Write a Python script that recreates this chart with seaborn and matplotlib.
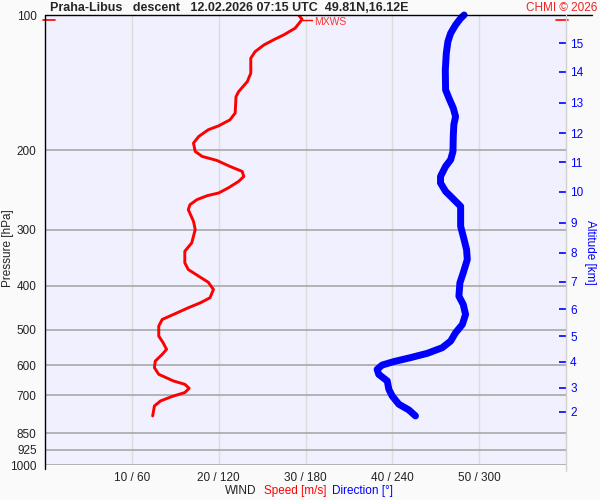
import pandas as pd
import matplotlib
matplotlib.use("Agg")
import matplotlib.pyplot as plt
from matplotlib.lines import Line2D
from matplotlib.ticker import NullLocator
import seaborn as sns

# pressure levels (hPa) for the left axis
pressure_levels = [100, 200, 300, 400, 500, 600, 700, 850, 925, 1000]

# x axis: speed m/s / direction deg
speed_ticks = [10, 20, 30, 40, 50]
speed_tick_labels = ["10 / 60", "20 / 120", "30 / 180", "40 / 240", "50 / 300"]

# altitude marks on right axis (km -> pressure where they sit)
alt_km = [15, 14, 13, 12, 11, 10, 9, 8, 7, 6, 5, 4, 3, 2]
alt_p = [115.5, 133.6, 156.5, 183.0, 212.6, 247.3, 289.8, 337.7, 391.7,
         451.2, 517.1, 589.3, 673.0, 760.8]

# wind speed profile
speed_p = [100.0, 102.2, 103.5, 107.0, 110.7, 113.6, 116.6, 120.6, 124.7, 134.7,
           140.6, 148.0, 151.8, 165.2, 171.0, 176.3, 179.9, 186.2, 192.6, 201.0,
           206.2, 210.5, 217.0, 222.6, 228.4, 234.3, 242.3, 248.6, 252.0, 257.2,
           263.9, 270.7, 287.4, 299.8, 320.9, 335.0, 355.4, 367.8, 380.6, 392.5,
           407.3, 425.0, 436.0, 447.3, 462.8, 474.8, 491.3, 517.1, 534.8, 553.4,
           567.7, 587.5, 607.7, 628.8, 650.6, 661.7, 675.3, 690.3, 704.6, 720.6,
           739.3, 778.0]
speed = [29.2, 29.6, 29.4, 28.8, 27.5, 26.3, 25.2, 24.2, 23.7, 23.7,
         23.3, 22.3, 22.0, 21.9, 21.3, 20.0, 18.8, 17.7, 17.1, 17.3,
         18.1, 19.8, 21.3, 22.7, 22.9, 22.3, 21.1, 20.0, 18.7, 17.5,
         16.7, 16.5, 17.1, 17.3, 16.9, 16.1, 16.1, 16.5, 17.7, 18.8,
         19.4, 19.0, 17.9, 16.5, 14.8, 13.5, 13.1, 13.1, 13.6, 14.0,
         13.5, 12.7, 12.6, 13.1, 14.8, 16.1, 16.6, 16.1, 14.6, 13.3,
         12.6, 12.4]

# wind direction profile
dir_p = [100.0, 101.7, 105.2, 109.8, 114.6, 121.6, 132.4, 146.7, 153.0, 161.0,
         168.1, 175.4, 186.2, 201.0, 209.7, 217.0, 228.4, 236.2, 246.6, 255.0,
         266.2, 294.8, 310.3, 332.1, 349.5, 374.0, 393.6, 421.5, 439.8, 462.8,
         487.1, 508.2, 530.4, 548.7, 564.8, 577.3, 589.2, 599.6, 613.0, 628.8,
         650.6, 678.9, 702.4, 732.8, 754.5, 778.0]
direction = [289.6, 287.2, 283.7, 280.3, 278.4, 277.3, 276.6, 276.8, 279.1, 282.1,
             283.7, 282.5, 282.1, 281.9, 280.3, 276.8, 273.3, 273.3, 276.8, 281.4,
             287.2, 287.2, 289.0, 291.3, 291.8, 289.0, 286.7, 286.0, 289.0, 290.6,
             288.4, 283.7, 280.3, 274.5, 264.1, 252.6, 241.0, 233.0, 229.5, 230.6,
             236.5, 237.6, 239.9, 244.5, 251.4, 256.0]

# max wind level
mxws_p = 102.6
mxws_speed = 29.6

title = "Praha-Libus   descent   12.02.2026 07:15 UTC  49.81N,16.12E"

sns.set_style("white")
plt.rcParams["font.family"] = ["Liberation Sans", "DejaVu Sans"]

W, H = 600, 500
fig = plt.figure(figsize=(6, 5), dpi=100, facecolor="#fafafa")
ax = fig.add_axes([45 / W, 1 - 465 / H, 521 / W, 450 / H])
ax.set_facecolor("#f0f0ff")

for p in pressure_levels:
    ax.axhline(p, color="#a8a8a8", lw=1.2, zorder=1)
for s in speed_ticks:
    ax.axvline(s, color="#dcdcdc", lw=1, zorder=0.5)

df_speed = pd.DataFrame({"x": speed, "p": speed_p})
df_dir = pd.DataFrame({"x": [d / 6.0 for d in direction], "p": dir_p})

sns.lineplot(data=df_speed, x="x", y="p", sort=False, estimator=None,
             color="red", lw=2.1, ax=ax, zorder=3,
             solid_joinstyle="round")
sns.lineplot(data=df_dir, x="x", y="p", sort=False, estimator=None,
             color="blue", lw=5, ax=ax, zorder=3,
             solid_capstyle="round", solid_joinstyle="round")
ax.lines[-1].set_clip_on(False)

ax.set_yscale("log")
ax.set_ylim(1000, 100)
ax.set_xlim(0, 60)
ax.set_yticks(pressure_levels)
ax.set_yticklabels([str(p) for p in pressure_levels])
ax.yaxis.set_minor_locator(NullLocator())
ax.set_xticks(speed_ticks)
ax.set_xticklabels(speed_tick_labels)
ax.tick_params(length=0, labelsize=8.5, colors="#222222")
ax.tick_params(axis="y", pad=6)
ax.tick_params(axis="x", pad=5)
ax.set_xlabel("")
ax.set_ylabel("")
for side in ["top", "bottom", "right", "left"]:
    ax.spines[side].set_visible(False)

# max wind marker
ax.plot([mxws_speed, mxws_speed + 1.1], [mxws_p, mxws_p], color="red", lw=1, zorder=4)
ax.text(mxws_speed + 1.4, 103.6, "MXWS", color="#ff3333", fontsize=7.5, va="center")
tr = ax.get_yaxis_transform()
ax.plot([-0.004, 0.019], [mxws_p, mxws_p], transform=tr, color="red", lw=1.2, clip_on=False)
ax.plot([0.98, 1.003], [mxws_p, mxws_p], transform=tr, color="red", lw=1.2, clip_on=False)

# altitude axis
ax2 = ax.twinx()
ax2.set_yscale("log")
ax2.set_ylim(1000, 100)
ax2.set_yticks(alt_p)
ax2.set_yticklabels([str(k) for k in alt_km])
ax2.yaxis.set_minor_locator(NullLocator())
ax2.tick_params(axis="y", direction="in", length=5, width=1.2, colors="blue",
                labelsize=8.5, pad=3)
for side in ["top", "bottom", "left", "right"]:
    ax2.spines[side].set_visible(False)

# frame lines
fig.add_artist(Line2D([45 / W, 592 / W], [1 - 15 / H] * 2, color="black", lw=1))
fig.add_artist(Line2D([45 / W] * 2, [1 - 15 / H, 1 - 469 / H], color="black", lw=1))
fig.add_artist(Line2D([565.5 / W] * 2, [1 - 15 / H, 1 - 471 / H], color="#d0d0d0", lw=1))

# texts
fig.text(50 / W, 1 - 8 / H, title, fontsize=9, fontweight="bold", va="center", ha="left")
fig.text(597 / W, 1 - 8 / H, "CHMI \u00a9 2026", fontsize=8.5, color="#ee2222",
         va="center", ha="right")
fig.text(8 / W, 1 - 248 / H, "Pressure [hPa]", fontsize=8.5, rotation=90,
         va="center", ha="center", color="#222222")
fig.text(590 / W, 1 - 252 / H, "Altitude [km]", fontsize=8.5, rotation=270,
         va="center", ha="center", color="blue")
fig.text(225 / W, 1 - 491 / H, "WIND", fontsize=8.5, va="center", ha="left", color="#222222")
fig.text(264 / W, 1 - 491 / H, "Speed [m/s]", fontsize=8.5, va="center", ha="left", color="red")
fig.text(332 / W, 1 - 491 / H, "Direction [\u00b0]", fontsize=8.5, va="center", ha="left", color="blue")

fig.savefig("out.png", dpi=100, facecolor=fig.get_facecolor())
